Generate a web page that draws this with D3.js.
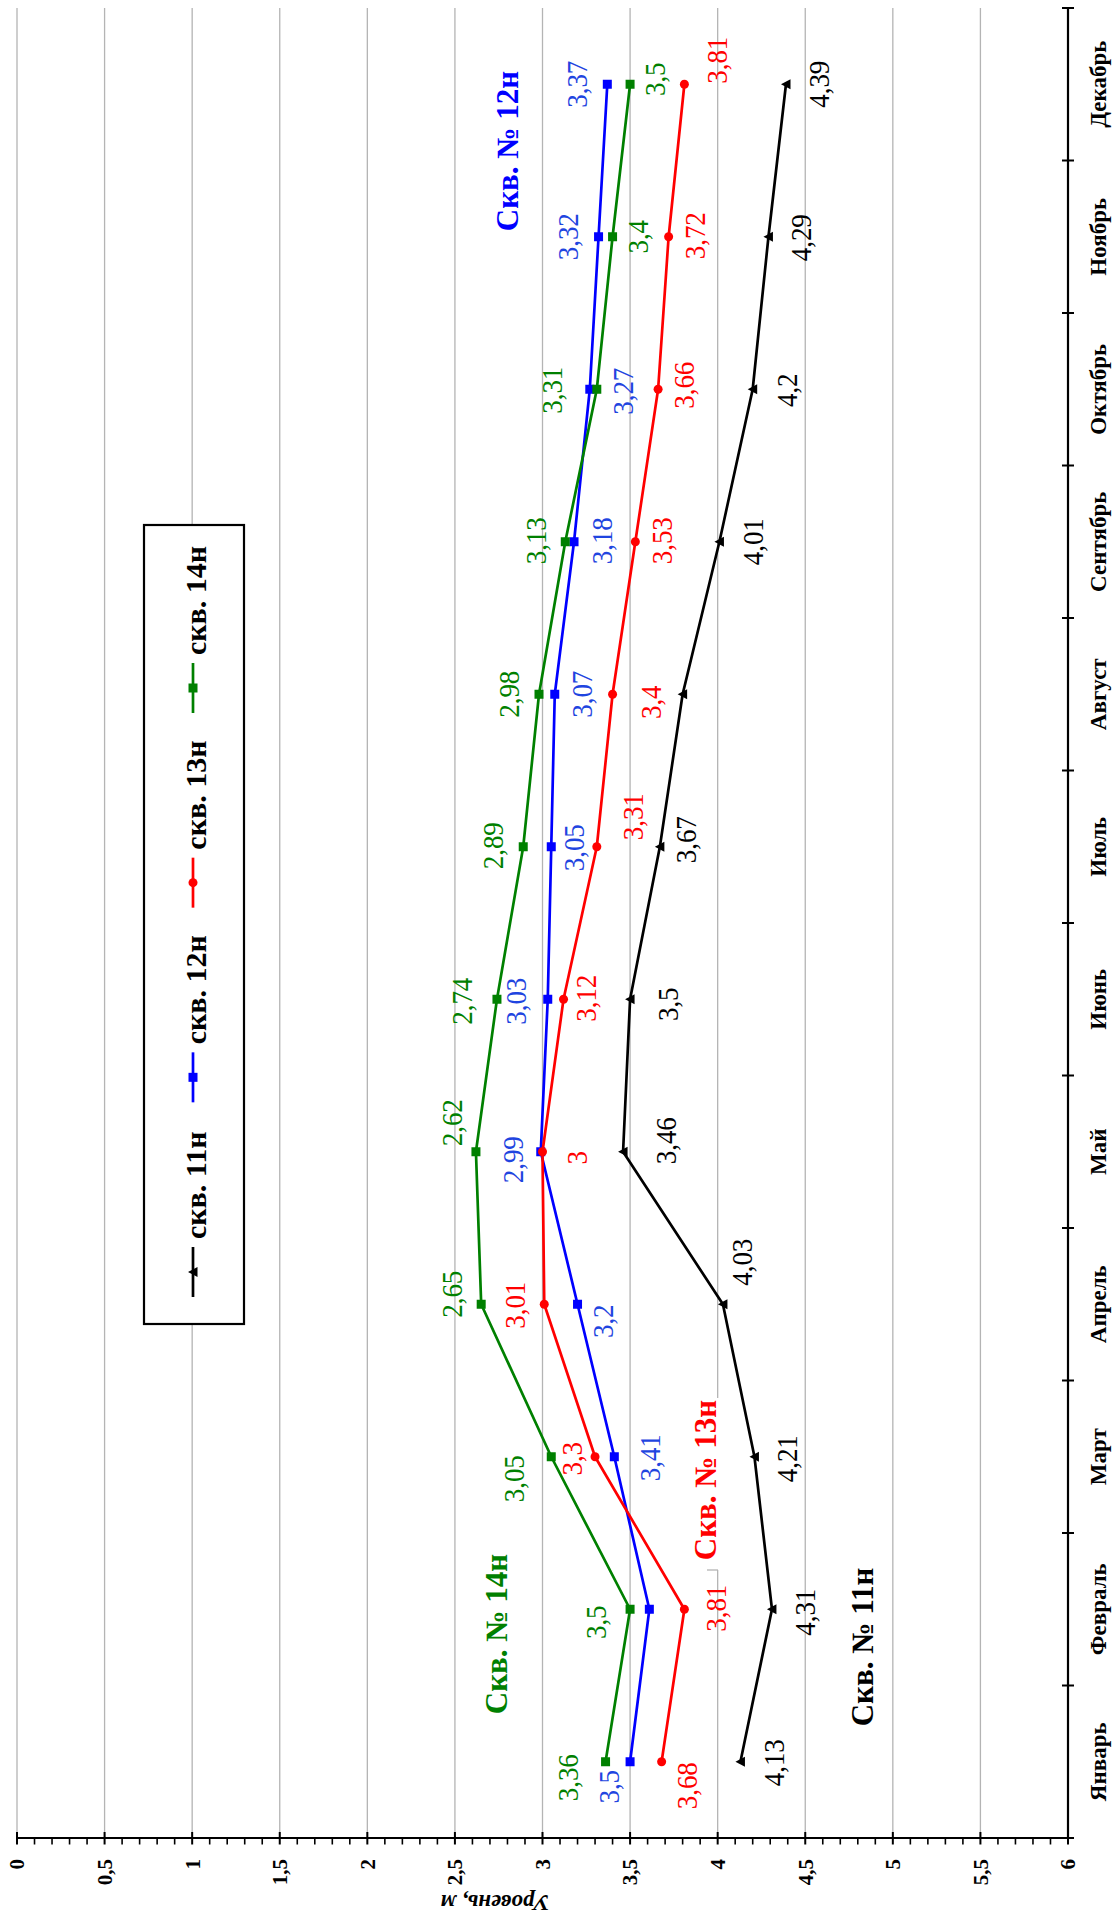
<!DOCTYPE html>
<html lang="ru">
<head>
<meta charset="utf-8">
<title>Уровень воды по скважинам</title>
<script src="https://cdn.jsdelivr.net/npm/d3@7"></script>
<style>
  html, body { margin: 0; padding: 0; background: #fff; }
  svg { display: block; }
</style>
</head>
<body>
<svg id="chart" width="1120" height="1924"></svg>
<script>
// Months along the category axis
const months = ["Январь", "Февраль", "Март", "Апрель", "Май", "Июнь",
                "Июль", "Август", "Сентябрь", "Октябрь", "Ноябрь", "Декабрь"];

// Water level, m, per well
const well11 = [4.13, 4.31, 4.21, 4.03, 3.46, 3.5, 3.67, 3.8, 4.01, 4.2, 4.29, 4.39];
const well12 = [3.5, 3.61, 3.41, 3.2, 2.99, 3.03, 3.05, 3.07, 3.18, 3.27, 3.32, 3.37];
const well13 = [3.68, 3.81, 3.3, 3.01, 3, 3.12, 3.31, 3.4, 3.53, 3.66, 3.72, 3.81];
const well14 = [3.36, 3.5, 3.05, 2.65, 2.62, 2.74, 2.89, 2.98, 3.13, 3.31, 3.4, 3.5];

const seriesNames = ["скв. 11н", "скв. 12н", "скв. 13н", "скв. 14н"];
const wellTitles = ["Скв. № 11н", "Скв. № 12н", "Скв. № 13н", "Скв. № 14н"];

// Value axis ticks
const valueTicks = [0, 0.5, 1, 1.5, 2, 2.5, 3, 3.5, 4, 4.5, 5, 5.5, 6];
const valueTickLabels = ["0", "0,5", "1", "1,5", "2", "2,5", "3", "3,5", "4", "4,5", "5", "5,5", "6"];
const axisTitle = "Уровень, м";

// ---- presentation ----
const styles = [
  { color: "#000000", label: "#000000", marker: "triangle" },
  { color: "#0000ff", label: "#1f45e0", marker: "square" },
  { color: "#ff0000", label: "#ff0000", marker: "circle" },
  { color: "#008000", label: "#008000", marker: "square" }
];

// Value-label nudges in px from each point (null = no label)
const labelNudge = [
  [[33,1],[33,3],[32,2],[19,-42],[43,-11],[38,5],[26,-7],null,[33,0],[34,1],[32,1],[33,0]],
  [[-21,25],null,[36,1],[25,17],[-28,8],[-32,2],[23,1],[27,0],[28,-1],[33,2],[-31,0],[-30,0]],
  [[25,24],[32,-1],[-23,2],[-29,1],[34,6],[22,-1],[36,-30],[38,8],[27,-1],[26,-4],[26,-1],[33,-24]],
  [[-38,16],[-34,13],[-37,22],[-29,-10],[-24,-29],[-35,2],[-30,-1],[-30,0],[-29,-1],[-45,1],[25,0],[25,-5]]
];

// Well title anchors (centre) in px
const titlePos = [[862, 1647], [507, 151], [705, 1480], [496, 1634]];

const W = 1120, H = 1924;
const plot = { left: 17, right: 1068, top: 8, bottom: 1838 };
const SERIF = "'Liberation Serif', 'Times New Roman', 'DejaVu Serif', serif";

const svg = d3.select("#chart");
svg.append("rect").attr("width", W).attr("height", H).attr("fill", "#fff");

const x = d3.scaleLinear().domain([0, 6]).range([plot.left, plot.right]);
const y = d3.scaleBand().domain(months).range([plot.bottom, plot.top]);
const yc = m => y(m) + y.bandwidth() / 2;

// Grid lines
svg.append("g").selectAll("line")
  .data(valueTicks.filter(v => v < 6))
  .join("line")
  .attr("x1", d => x(d)).attr("x2", d => x(d))
  .attr("y1", plot.top).attr("y2", plot.bottom)
  .attr("stroke", "#b4b4b4").attr("stroke-width", 1.3);

// Value axis (bottom)
const vAxis = svg.append("g");
vAxis.append("line")
  .attr("x1", x(0)).attr("x2", x(6) + 4)
  .attr("y1", plot.bottom).attr("y2", plot.bottom)
  .attr("stroke", "#000").attr("stroke-width", 2.2);
const minor = d3.range(0, 61).map(i => i / 10).filter((d, i) => i % 5 !== 0);
vAxis.selectAll("line.minor").data(minor).join("line")
  .attr("class", "minor")
  .attr("x1", d => x(d)).attr("x2", d => x(d))
  .attr("y1", plot.bottom).attr("y2", plot.bottom + 6.5)
  .attr("stroke", "#000").attr("stroke-width", 1.6);
vAxis.selectAll("line.major").data(valueTicks).join("line")
  .attr("class", "major")
  .attr("x1", d => x(d)).attr("x2", d => x(d))
  .attr("y1", plot.bottom - 6).attr("y2", plot.bottom + 6.5)
  .attr("stroke", "#000").attr("stroke-width", 2);
vAxis.selectAll("text").data(valueTicks).join("text")
  .attr("transform", d => `translate(${x(d)},${plot.bottom + 21}) rotate(-90)`)
  .attr("text-anchor", "end")
  .attr("dy", "0.35em")
  .attr("font-family", SERIF).attr("font-weight", "bold").attr("font-size", 21)
  .text((d, i) => valueTickLabels[i]);
svg.append("text")
  .attr("transform", `translate(495,1903) rotate(180)`)
  .attr("text-anchor", "middle").attr("dy", "0.35em")
  .attr("font-family", SERIF).attr("font-weight", "bold").attr("font-style", "italic")
  .attr("font-size", 23)
  .text(axisTitle);

// Category axis (right)
const cAxis = svg.append("g");
cAxis.append("line")
  .attr("x1", plot.right).attr("x2", plot.right)
  .attr("y1", plot.top).attr("y2", plot.bottom)
  .attr("stroke", "#000").attr("stroke-width", 2.2);
const bounds = months.map(m => y(m)).concat([plot.bottom]);
cAxis.selectAll("line.tick").data(bounds).join("line")
  .attr("class", "tick")
  .attr("x1", plot.right - 6).attr("x2", plot.right + 6)
  .attr("y1", d => d).attr("y2", d => d)
  .attr("stroke", "#000").attr("stroke-width", 2);
cAxis.selectAll("text").data(months).join("text")
  .attr("transform", d => `translate(1098,${yc(d)}) rotate(-90)`)
  .attr("text-anchor", "middle").attr("dy", "0.35em")
  .attr("font-family", SERIF).attr("font-weight", "bold").attr("font-size", 23)
  .text(d => d);

// Marker shapes
function drawMarker(g, type, cx, cy, color) {
  if (type === "square") {
    g.append("rect").attr("x", cx - 4.5).attr("y", cy - 4.5)
      .attr("width", 9).attr("height", 9).attr("fill", color);
  } else if (type === "circle") {
    g.append("circle").attr("cx", cx).attr("cy", cy).attr("r", 4.5).attr("fill", color);
  } else {
    const s = 5;
    g.append("path")
      .attr("d", `M${cx - s},${cy} L${cx + s * 0.9},${cy - s} L${cx + s * 0.9},${cy + s} Z`)
      .attr("fill", color);
  }
}

const wells = [well11, well12, well13, well14];
const line = d3.line().x(d => x(d.v)).y(d => yc(d.m));

// Series lines and markers
wells.forEach((vals, s) => {
  const pts = vals.map((v, i) => ({ v, m: months[i] }));
  const g = svg.append("g");
  g.append("path").datum(pts)
    .attr("d", line)
    .attr("fill", "none")
    .attr("stroke", styles[s].color)
    .attr("stroke-width", 2.7)
    .attr("stroke-linejoin", "round");
  pts.forEach(p => drawMarker(g, styles[s].marker, x(p.v), yc(p.m), styles[s].color));
});

// Value labels
wells.forEach((vals, s) => {
  const g = svg.append("g");
  vals.forEach((v, i) => {
    const n = labelNudge[s][i];
    if (!n) return;
    const cx = x(v) + n[0], cy = yc(months[i]) + n[1];
    g.append("text")
      .attr("transform", `translate(${cx},${cy}) rotate(-90) scale(1,1.1)`)
      .attr("text-anchor", "middle").attr("dy", "0.34em")
      .attr("font-family", SERIF).attr("font-size", 27)
      .attr("fill", styles[s].label)
      .text(String(v).replace(".", ","));
  });
});

// Well titles
const titleColors = ["#000000", "#0000ff", "#ff0000", "#008000"];
// backing for the 13н title, which sits over a grid line
svg.append("rect").attr("x", 690).attr("y", 1398).attr("width", 32).attr("height", 172)
  .attr("fill", "#fff");
svg.append("line").attr("x1", 707).attr("x2", 718).attr("y1", 1570).attr("y2", 1570)
  .attr("stroke", "#b4b4b4").attr("stroke-width", 1.3);
wellTitles.forEach((t, i) => {
  svg.append("text")
    .attr("transform", `translate(${titlePos[i][0]},${titlePos[i][1]}) rotate(-90)`)
    .attr("text-anchor", "middle").attr("dy", "0.36em")
    .attr("font-family", SERIF).attr("font-weight", "bold").attr("font-size", 31)
    .attr("fill", titleColors[i])
    .text(t);
});

// Legend
const legend = svg.append("g");
legend.append("rect")
  .attr("x", 144).attr("y", 525).attr("width", 100).attr("height", 799)
  .attr("fill", "#fff").attr("stroke", "#000").attr("stroke-width", 2.2);
const legendY = d3.scaleLinear().domain([0, 3]).range([1272, 688]);
seriesNames.forEach((name, s) => {
  const cy = legendY(s);
  legend.append("line")
    .attr("x1", 193).attr("x2", 193).attr("y1", cy - 25).attr("y2", cy + 25)
    .attr("stroke", styles[s].color).attr("stroke-width", 2.7);
  drawMarker(legend, styles[s].marker, 193, cy, styles[s].color);
  legend.append("text")
    .attr("transform", `translate(206,${cy - 33}) rotate(-90)`)
    .attr("text-anchor", "start")
    .attr("font-family", SERIF).attr("font-weight", "bold").attr("font-size", 30)
    .text(name);
});
</script>
</body>
</html>
